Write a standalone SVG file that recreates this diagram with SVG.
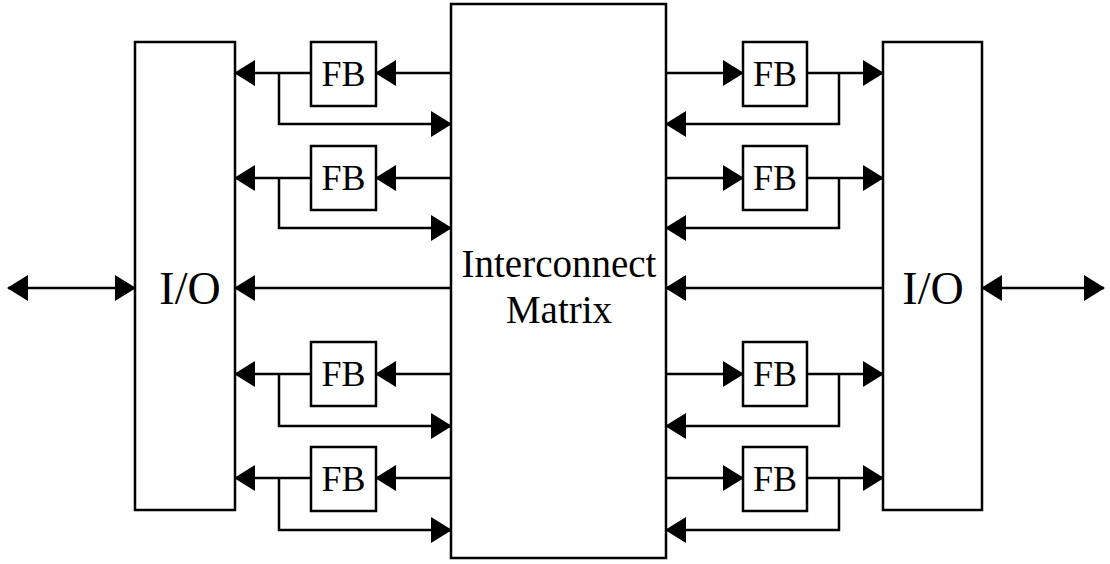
<svg xmlns="http://www.w3.org/2000/svg" width="1110" height="564" viewBox="0 0 1110 564">
<defs>
<marker id="ah" markerUnits="userSpaceOnUse" markerWidth="21" markerHeight="26" refX="20" refY="13" orient="auto-start-reverse" viewBox="0 0 21 26">
<path d="M0,0 L21,13 L0,26 z" fill="#000"/>
</marker>
<style>
.box{fill:#fff;stroke:#000;stroke-width:2.5}
.ln{fill:none;stroke:#000;stroke-width:2.5}
.a{marker-end:url(#ah)}
.ab{marker-start:url(#ah);marker-end:url(#ah)}
text{font-family:"Liberation Serif","Times New Roman",serif;fill:#000;text-anchor:middle}
.fb{font-size:36px}
.io{font-size:46px}
.im{font-size:39px}
</style>
</defs>
<rect width="1110" height="564" fill="#fff"/>
<g id="connectors">
<path class="ln ab" d="M8,288 H135"/>
<path class="ln ab" d="M982,288 H1104"/>
<path class="ln a" d="M451,288 H235"/>
<path class="ln a" d="M883,288 H666"/>
<path class="ln a" d="M451,73 H376"/><path class="ln a" d="M311,73 H235"/><path class="ln a" d="M279,73 V124 H451"/>
<path class="ln a" d="M451,178 H376"/><path class="ln a" d="M311,178 H235"/><path class="ln a" d="M279,178 V228 H451"/>
<path class="ln a" d="M451,374 H376"/><path class="ln a" d="M311,374 H235"/><path class="ln a" d="M279,374 V426 H451"/>
<path class="ln a" d="M451,478 H376"/><path class="ln a" d="M311,478 H235"/><path class="ln a" d="M279,478 V530 H451"/>
<path class="ln a" d="M666,73 H743"/><path class="ln a" d="M807,73 H883"/><path class="ln a" d="M839,73 V124 H666"/>
<path class="ln a" d="M666,178 H743"/><path class="ln a" d="M807,178 H883"/><path class="ln a" d="M839,178 V228 H666"/>
<path class="ln a" d="M666,374 H743"/><path class="ln a" d="M807,374 H883"/><path class="ln a" d="M839,374 V426 H666"/>
<path class="ln a" d="M666,478 H743"/><path class="ln a" d="M807,478 H883"/><path class="ln a" d="M839,478 V530 H666"/>
</g>
<g id="io-left"><rect class="box" x="135" y="42" width="100" height="468"/><text class="io" x="190" y="304">I/O</text></g>
<g id="io-right"><rect class="box" x="883" y="42" width="99" height="468"/><text class="io" x="933" y="304">I/O</text></g>
<g id="matrix"><rect class="box" x="451" y="4" width="215" height="554"/><text class="im" x="559" y="277">Interconnect</text><text class="im" x="559" y="323">Matrix</text></g>
<g id="fb-l1"><rect class="box" x="311" y="42" width="65" height="64"/><text class="fb" x="343.5" y="86">FB</text></g>
<g id="fb-l2"><rect class="box" x="311" y="146" width="65" height="64"/><text class="fb" x="343.5" y="190">FB</text></g>
<g id="fb-l3"><rect class="box" x="311" y="342" width="65" height="64"/><text class="fb" x="343.5" y="386">FB</text></g>
<g id="fb-l4"><rect class="box" x="311" y="447" width="65" height="64"/><text class="fb" x="343.5" y="491">FB</text></g>
<g id="fb-r1"><rect class="box" x="743" y="42" width="64" height="64"/><text class="fb" x="775" y="86">FB</text></g>
<g id="fb-r2"><rect class="box" x="743" y="146" width="64" height="64"/><text class="fb" x="775" y="190">FB</text></g>
<g id="fb-r3"><rect class="box" x="743" y="342" width="64" height="64"/><text class="fb" x="775" y="386">FB</text></g>
<g id="fb-r4"><rect class="box" x="743" y="447" width="64" height="64"/><text class="fb" x="775" y="491">FB</text></g>
</svg>
